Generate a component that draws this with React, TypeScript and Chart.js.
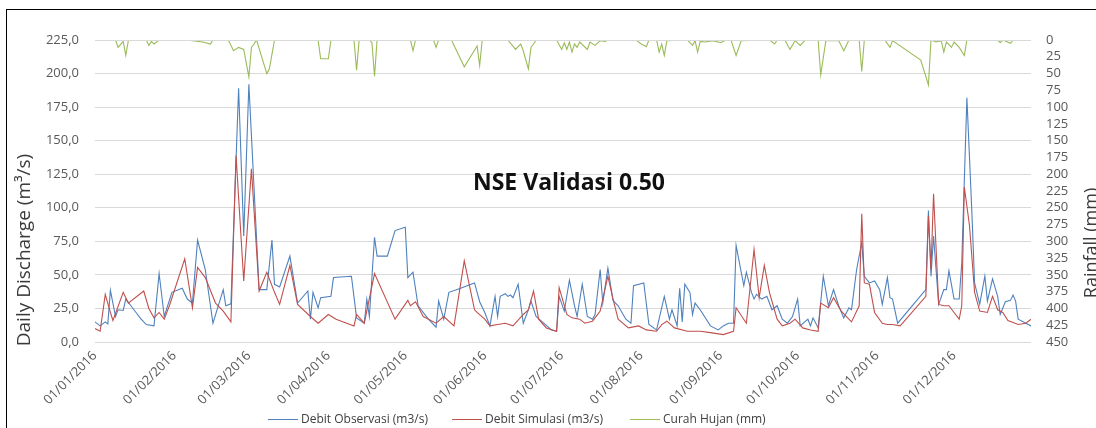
import React, { useEffect, useRef } from 'react';
import { Chart, registerables } from 'chart.js';

Chart.register(...registerables);

// ---- Data (day index from 01/01/2016) ----
const monthTickDays = [0, 31, 60, 91, 121, 152, 182, 213, 244, 274, 305, 335];
const monthTickLabels = [
  '01/01/2016', '01/02/2016', '01/03/2016', '01/04/2016', '01/05/2016', '01/06/2016',
  '01/07/2016', '01/08/2016', '01/09/2016', '01/10/2016', '01/11/2016', '01/12/2016',
];

const seriesNames = ['Debit Observasi (m3/s)', 'Debit Simulasi (m3/s)', 'Curah Hujan (mm)'];
const seriesColors = ['#4F81BD', '#C0504D', '#9BBB59'];

const obsDays = [
  0, 2, 4, 5, 6, 8, 9, 11, 12, 14, 16, 18, 20, 23, 25, 27, 30, 34, 36, 38, 40, 43, 46, 50, 51, 53,
  56, 58, 60, 64, 67, 69, 70, 72, 76, 79, 83, 84, 85, 87, 88, 92, 93, 100, 102, 105, 106, 107, 109,
  110, 114, 117, 121, 122, 124, 126, 130, 133, 134, 136, 138, 141, 148, 150, 152, 154, 156, 157, 158,
  160, 161, 162, 163, 165, 167, 169, 170, 172, 175, 178, 180, 181, 183, 185, 187, 188, 190, 192, 194,
  195, 197, 198, 200, 202, 204, 207, 209, 210, 214, 216, 219, 222, 224, 225, 227, 228, 229, 230, 232,
  233, 234, 236, 240, 243, 245, 247, 249, 250, 253, 254, 256, 257, 258, 260, 262, 264, 266, 268, 270,
  272, 274, 275, 278, 279, 280, 282, 284, 286, 288, 290, 292, 294, 295, 297, 299, 300, 302, 304, 306,
  307, 309, 310, 311, 313, 324, 325, 326, 327, 329, 331, 332, 333, 335, 337, 338, 340, 342, 343, 345,
  347, 348, 350, 352, 353, 355, 357, 358, 359, 360, 363, 365,
];
const obsValues = [
  15, 12, 15, 13.5, 38.5, 19, 24, 23.5, 32, 27, 22, 17, 13, 12, 51, 19, 37, 40, 32, 29, 76, 54, 14, 39, 27, 28.5,
  189, 79, 192, 39, 39, 76, 43, 41, 64, 29, 38, 17, 37, 25.5, 33, 34, 48, 49, 18, 14, 32, 19, 78,
  64, 64, 83, 85.5, 48, 52, 27, 17, 11, 30.5, 17, 37, 39, 44, 30, 22, 12, 34, 19, 34,
  36, 34, 35, 33, 43, 14, 24, 30.5, 19, 14, 9, 8, 34, 23, 46, 27, 19, 43, 19, 17,
  20.5, 54, 29, 55, 31, 27, 17, 14, 42, 44, 13, 9, 34, 17, 24, 12, 40, 15, 43, 37,
  20.5, 29, 24, 12, 9, 12, 14, 14, 72, 42, 52, 37, 32, 35.5, 32, 34, 24, 27, 17, 14,
  19, 32, 12, 17, 12, 18, 10.5, 49, 27, 39, 27, 18, 25.5, 24, 54, 74, 49, 44, 45.5, 39,
  28, 48, 33, 32, 14, 39, 98, 49, 79, 28, 39, 39, 53, 32, 32, 59, 182, 94, 44, 28,
  49, 30.5, 47, 34, 20.5, 30, 31, 35, 30.5, 17, 14, 12,
];

const simDays = [
  0, 2, 4, 6, 7, 11, 13, 19, 21, 23, 25, 27, 29, 35, 38, 40, 43, 47, 50, 53, 55, 58, 61, 64, 67, 70,
  72, 76, 79, 84, 87, 91, 94, 101, 102, 105, 109, 117, 122, 123, 125, 128, 133, 136, 140, 144, 148,
  149, 152, 154, 157, 160, 163, 167, 169, 171, 173, 176, 180, 181, 184, 186, 189, 191, 194, 197, 200,
  202, 204, 208, 212, 215, 219, 221, 223, 226, 231, 236, 240, 245, 249, 250, 254, 257, 259, 261, 263,
  266, 268, 271, 273, 276, 279, 282, 283, 286, 288, 291, 295, 298, 299, 300, 302, 304, 307, 309, 311,
  314, 324, 325, 326, 327, 329, 331, 333, 335, 337, 338, 339, 341, 343, 345, 348, 350, 352, 354, 356,
  360, 363, 365,
];
const simValues = [
  10, 8, 35.5, 22, 16, 37, 29, 38, 25, 18, 22, 17, 27, 62, 25.5, 55.5, 48, 29, 23, 15, 139, 45.5, 129, 38, 52, 37,
  28, 57, 28, 19, 14, 20.5, 17, 12, 20.5, 14, 51, 17, 31, 27, 30, 19, 14, 19, 12, 60.5, 24,
  22, 17, 12, 13, 14, 12, 20.5, 24, 38, 17, 10.5, 8, 40.5, 20.5, 18, 17, 14, 15.5, 23, 49,
  32, 17, 10.5, 12, 9, 8, 13, 15.5, 10.5, 8, 8, 7, 5.5, 8, 25.5, 14, 69, 33, 57, 37,
  17, 12, 14, 17, 10.5, 9, 8, 29, 25.5, 33, 23, 15, 27, 95.5, 44, 43, 22, 14, 13, 13,
  12, 34, 94, 54, 110.5, 28, 27, 27, 22, 17, 27, 115.5, 87, 37, 23, 22, 34, 24, 22, 16,
  13, 14, 17,
];

const rainDays = [
  0, 8, 9, 11, 12, 13, 14, 20, 21, 22, 23, 25, 35, 38, 42, 45, 46, 52, 54, 56, 58, 60, 61, 62, 63, 67,
  68, 70, 87, 88, 91, 92, 101, 102, 103, 107, 108, 109, 110, 123, 124, 125, 132, 133, 134, 139, 144,
  149, 150, 151, 161, 164, 166, 167, 169, 170, 171, 172, 180, 182, 183, 184, 185, 186, 187, 188, 189,
  192, 193, 195, 197, 199, 200, 211, 213, 215, 216, 219, 220, 221, 222, 223, 231, 233, 234, 235, 236,
  238, 241, 244, 246, 248, 250, 252, 263, 265, 266, 269, 271, 273, 275, 277, 282, 283, 285, 290, 292,
  294, 298, 299, 300, 308, 310, 311, 322, 325, 326, 328, 330, 331, 332, 334, 335, 337, 339, 340, 352,
  353, 354, 357, 358, 365,
];
const rainValues = [
  0, 0, 11, 2, 23, 1, 0, 0, 8, 2, 6, 0, 0, 1, 3, 6, 0, 0, 16, 11, 14, 55, 11, 6, 0, 50,
  43, 0, 0, 28, 28, 0, 0, 45, 0, 0, 4, 54, 0, 0, 16, 0, 0, 11, 0, 0, 40,
  9, 38, 0, 0, 14, 6, 16, 43, 11, 6, 0, 0, 14, 4, 14, 3, 18, 6, 11, 3,
  14, 3, 8, 1, 2, 0, 0, 6, 10, 0, 0, 18, 6, 23, 1, 0, 8, 1, 18, 2,
  3, 1, 4, 0, 0, 23, 1, 0, 6, 0, 0, 14, 1, 8, 0, 0, 52, 1, 1, 16,
  0, 0, 47, 0, 0, 11, 1, 30, 67, 0, 3, 1, 18, 3, 11, 3, 11, 23, 0, 0,
  4, 0, 5, 0, 0,
];

const toPoints = (days: number[], values: number[]) => days.map((d, i) => ({ x: d, y: values[i] }));

// ---- Layout ----
const W = 1096;
const H = 428;
const PLOT_LEFT = 95;
const PLOT_RIGHT = 1031;
const PLOT_TOP = 40;
const PLOT_BOTTOM = 342;
const TICK_COLOR = '#595959';
const FONT = "'Open Sans', 'Noto Sans', sans-serif";
const LEGEND_Y = 419;
const legendLineX = [268, 452, 630];

export default function App() {
  const ref = useRef<HTMLCanvasElement | null>(null);

  useEffect(() => {
    if (!ref.current) return;
    const base = { borderWidth: 1.1, pointRadius: 0, tension: 0 };
    const chart = new Chart(ref.current, {
      type: 'line',
      data: {
        datasets: [
          {
            ...base,
            label: seriesNames[0],
            data: toPoints(obsDays, obsValues),
            yAxisID: 'y',
            borderColor: seriesColors[0],
            backgroundColor: seriesColors[0],
            order: 1,
          },
          {
            ...base,
            label: seriesNames[1],
            data: toPoints(simDays, simValues),
            yAxisID: 'y',
            borderColor: seriesColors[1],
            backgroundColor: seriesColors[1],
            order: 0,
          },
          {
            ...base,
            label: seriesNames[2],
            data: toPoints(rainDays, rainValues),
            yAxisID: 'y1',
            borderColor: seriesColors[2],
            backgroundColor: seriesColors[2],
            order: 2,
            clip: { left: 0, top: -1, right: 0, bottom: 0 },
          },
        ],
      },
      options: {
        responsive: false,
        maintainAspectRatio: false,
        animation: false,
        devicePixelRatio: 1,
        layout: { padding: { top: PLOT_TOP, left: 0, right: 0, bottom: 0 } },
        plugins: {
          tooltip: { enabled: false },
          legend: { display: false },
        },
        scales: {
          x: {
            type: 'linear',
            min: 0,
            max: 365,
            grid: { display: false, drawTicks: false },
            border: { display: false },
            afterBuildTicks: (s: any) => {
              s.ticks = monthTickDays.map((v) => ({ value: v }));
            },
            afterFit: (s: any) => {
              s.height = H - PLOT_BOTTOM;
            },
            ticks: {
              autoSkip: false,
              minRotation: 45,
              maxRotation: 45,
              padding: 6,
              color: TICK_COLOR,
              font: { family: FONT, size: 13 },
              callback: (v: any) => {
                const i = monthTickDays.indexOf(Number(v));
                return i >= 0 ? monthTickLabels[i] : '';
              },
            },
          },
          y: {
            position: 'left',
            min: 0,
            max: 225,
            grid: { color: '#d9d9d9', lineWidth: 1, drawTicks: false },
            border: { display: false },
            afterFit: (s: any) => {
              s.width = PLOT_LEFT;
            },
            ticks: {
              stepSize: 25,
              padding: 16,
              color: TICK_COLOR,
              font: { family: FONT, size: 13 },
              callback: (v: any) => Number(v).toFixed(1).replace('.', ','),
            },
          },
          y1: {
            position: 'right',
            reverse: true,
            min: 0,
            max: 450,
            grid: { display: false, drawTicks: false },
            border: { display: false },
            afterFit: (s: any) => {
              s.width = W - PLOT_RIGHT;
            },
            ticks: {
              stepSize: 25,
              autoSkip: false,
              padding: 15,
              color: TICK_COLOR,
              font: { family: FONT, size: 13 },
            },
          },
        },
      },
    } as any);
    return () => chart.destroy();
  }, []);

  return (
    <div
      style={{
        position: 'fixed',
        left: 0,
        top: 0,
        width: W,
        height: H,
        overflow: 'hidden',
        background: '#fff',
        fontFamily: FONT,
      }}
    >
      <div
        style={{
          position: 'absolute',
          left: 6,
          top: 9,
          width: 1200,
          height: 600,
          border: '1px solid #000',
        }}
      />
      <canvas
        ref={ref}
        width={W}
        height={H}
        style={{ position: 'absolute', left: 0, top: 0, width: W, height: H }}
      />
      <div
        style={{
          position: 'absolute',
          left: 23 - 120,
          top: 250 - 12,
          width: 240,
          height: 24,
          lineHeight: '24px',
          textAlign: 'center',
          transform: 'rotate(-90deg)',
          whiteSpace: 'nowrap',
          fontSize: 19,
          color: '#3a3a3a',
        }}
      >
        Daily Discharge (m³/s)
      </div>
      <div
        style={{
          position: 'absolute',
          left: 1090 - 80,
          top: 243 - 12,
          width: 160,
          height: 24,
          lineHeight: '24px',
          textAlign: 'center',
          transform: 'rotate(-90deg)',
          whiteSpace: 'nowrap',
          fontSize: 18,
          color: '#3a3a3a',
        }}
      >
        Rainfall (mm)
      </div>
      <div
        style={{
          position: 'absolute',
          left: 473,
          top: 181 - 16,
          height: 32,
          lineHeight: '32px',
          whiteSpace: 'nowrap',
          fontSize: 23,
          fontWeight: 700,
          color: '#111',
        }}
      >
        NSE Validasi 0.50
      </div>
      {seriesNames.map((name, i) => (
        <React.Fragment key={name}>
          <div
            style={{
              position: 'absolute',
              left: legendLineX[i],
              top: LEGEND_Y - 0.5,
              width: 30,
              height: 1,
              background: seriesColors[i],
            }}
          />
          <div
            style={{
              position: 'absolute',
              left: legendLineX[i] + 33,
              top: LEGEND_Y - 9,
              height: 18,
              lineHeight: '18px',
              whiteSpace: 'nowrap',
              fontSize: 12,
              color: '#404040',
            }}
          >
            {name}
          </div>
        </React.Fragment>
      ))}
    </div>
  );
}
